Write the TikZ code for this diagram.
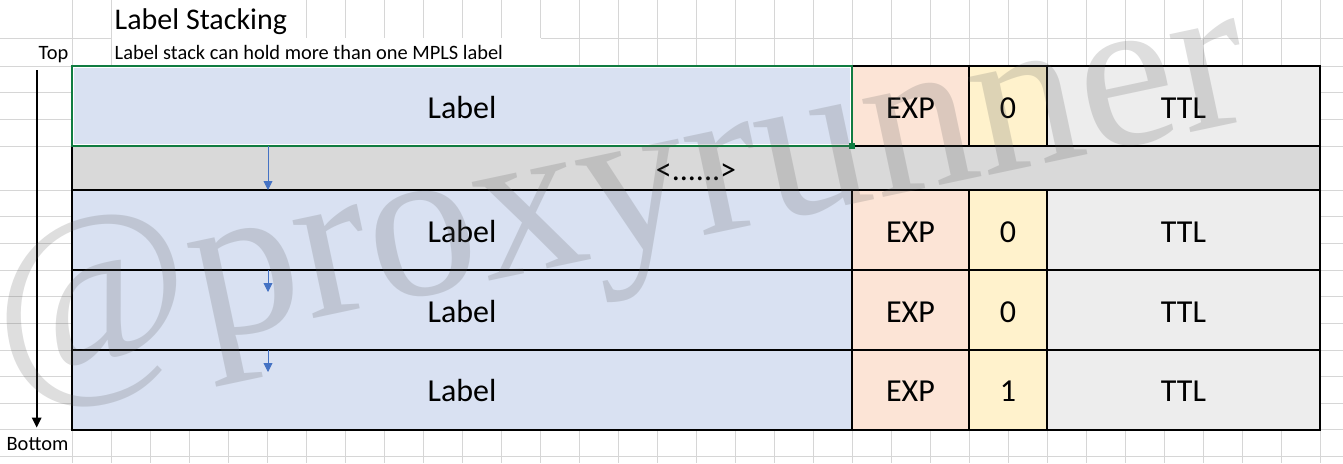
\documentclass[tikz,border=0pt]{standalone}
\usepackage{fontspec}
\setmainfont{Carlito}
\newfontfamily\wmfont{Liberation Serif}
\usetikzlibrary{arrows.meta}

\definecolor{labelblue}{HTML}{D9E1F2}
\definecolor{expred}{HTML}{FCE4D6}
\definecolor{sbit}{HTML}{FFF2CC}
\definecolor{ttlgray}{HTML}{EDEDED}
\definecolor{gapgray}{HTML}{D9D9D9}
\definecolor{gridgray}{HTML}{D6D6D6}
\definecolor{xlgreen}{HTML}{107C41}
\definecolor{arrowblue}{HTML}{4472C4}

\begin{document}
\begin{tikzpicture}[x=1pt, y=-1pt,
    cell/.style={draw, line width=1.2pt, inner sep=0pt, outer sep=0pt, minimum height=80pt,
      text height=24pt, text depth=0pt, font=\fontsize{32}{32}\selectfont},
    note/.style={inner sep=0pt, font=\fontsize{20.4}{20.4}\selectfont},
    heavy/.style={line width=2pt},
    stackarrow/.style={-{Triangle[length=9pt,width=9pt]}, arrowblue, line width=0.9pt}]
  \useasboundingbox (0,0) rectangle (1343,463);

  % Spreadsheet grid
  \foreach \y in {38,66,92.67,119.33,146,190,216.67,243.33,270,296.67,323.33,350,376.67,403.33,429.5,456}
    \draw[gridgray, line width=0.8pt] (0,\y) -- (1343,\y);
  \foreach \x in {72,111,...,1320}
    \draw[gridgray, line width=0.8pt] (\x,0) -- (\x,463);
  \fill[white] (111.6,0) rectangle (305.6,37.6);
  \fill[white] (111.6,38.4) rectangle (540.6,65.6);

  % Heading and side labels
  \node[anchor=base west, inner sep=0pt, font=\fontsize{30}{30}\selectfont] (title) at (114.5,29.3) {Label Stacking};
  \node[note, anchor=base west] (subtitle) at (114.5,59) {Label stack can hold more than one MPLS label};
  \node[note, anchor=base east] (toplbl) at (68.5,59) {Top};
  \node[note, anchor=base east] (botlbl) at (68.5,450) {Bottom};

  % Label stack entries
  \node[cell, fill=labelblue, minimum width=780pt] (lab1) at (462,106) {Label};
  \node[cell, fill=expred, minimum width=117pt] (exp1) at (910.5,106) {EXP};
  \node[cell, fill=sbit, minimum width=78pt] (s1) at (1008,106) {0};
  \node[cell, fill=ttlgray, minimum width=273pt] (ttl1) at (1183.5,106) {TTL};

  \node[cell, fill=gapgray, minimum width=1248pt, minimum height=44pt] (gap) at (696,168) {<......>};

  \node[cell, fill=labelblue, minimum width=780pt] (lab2) at (462,230) {Label};
  \node[cell, fill=expred, minimum width=117pt] (exp2) at (910.5,230) {EXP};
  \node[cell, fill=sbit, minimum width=78pt] (s2) at (1008,230) {0};
  \node[cell, fill=ttlgray, minimum width=273pt] (ttl2) at (1183.5,230) {TTL};

  \node[cell, fill=labelblue, minimum width=780pt] (lab3) at (462,310) {Label};
  \node[cell, fill=expred, minimum width=117pt] (exp3) at (910.5,310) {EXP};
  \node[cell, fill=sbit, minimum width=78pt] (s3) at (1008,310) {0};
  \node[cell, fill=ttlgray, minimum width=273pt] (ttl3) at (1183.5,310) {TTL};

  \node[cell, fill=labelblue, minimum width=780pt, minimum height=79.5pt] (lab4) at (462,389.75) {Label};
  \node[cell, fill=expred, minimum width=117pt, minimum height=79.5pt] (exp4) at (910.5,389.75) {EXP};
  \node[cell, fill=sbit, minimum width=78pt, minimum height=79.5pt] (s4) at (1008,389.75) {1};
  \node[cell, fill=ttlgray, minimum width=273pt, minimum height=79.5pt] (ttl4) at (1183.5,389.75) {TTL};

  % Heavy borders
  \draw[heavy] (exp1.north west) -- (ttl1.north east) -- (ttl4.south east) -- (lab4.south west) -- (gap.north west) -- (gap.north east);
  \draw[heavy] (gap.south west) -- (gap.south east);
  \draw[heavy] (lab3.north west) -- (ttl3.north east);
  \draw[heavy] (lab4.north west) -- (ttl4.north east);

  % Selected cell
  \draw[xlgreen, line width=2pt] (lab1.north west) rectangle (lab1.south east);
  \draw[white, line width=0.8pt] ([xshift=1.8pt,yshift=-1.8pt]lab1.north west) rectangle ([xshift=-1.8pt,yshift=1.8pt]lab1.south east);
  \fill[xlgreen] ([xshift=-3pt,yshift=3pt]lab1.south east) rectangle ([xshift=3pt,yshift=-3pt]lab1.south east);

  % Stack direction
  \coordinate (stacktop) at (36.7,70);
  \coordinate (stackend) at (36.7,427.5);
  \draw[-{Triangle[length=10pt,width=9.5pt]}, line width=1.8pt] (stacktop) -- (stackend);

  % Next label arrows
  \coordinate (n1) at (268,146);
  \coordinate (m1) at (268,190);
  \coordinate (n2) at (268,270);
  \coordinate (m2) at (268,292);
  \coordinate (n3) at (268,350);
  \coordinate (m3) at (268,372);
  \draw[stackarrow] (n1) -- (m1);
  \draw[stackarrow] (n2) -- (m2);
  \draw[stackarrow] (n3) -- (m3);

  % Watermark
  \node[anchor=base west, rotate=12, inner sep=0pt, text=black!65, opacity=0.2,
    font=\wmfont\fontsize{218}{218}\selectfont] (wm) at (6.5,384) {@proxyrunner};
\end{tikzpicture}
\end{document}
